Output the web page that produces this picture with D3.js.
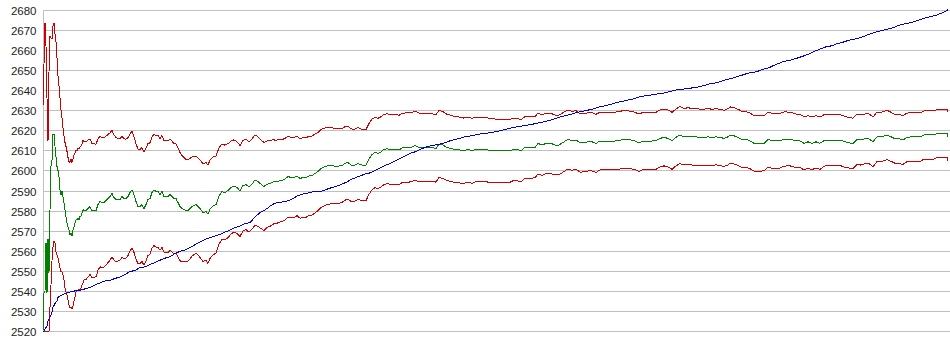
<!DOCTYPE html>
<html><head><meta charset="utf-8">
<script src="https://cdn.jsdelivr.net/npm/d3@7"></script>
<style>html,body{margin:0;padding:0;background:#fff;overflow:hidden}</style>
</head><body><svg id="chart" width="950" height="355"></svg>
<script>
const yTicks = [2520,2530,2540,2550,2560,2570,2580,2590,2600,2610,2620,2630,2640,2650,2660,2670,2680];

const trials = [0,1,2,3,4,5,6,7,8,9,10,11,12,13,14,15,16,17,18,19,20,21,22,23,24,25,26,27,28,29,30,31,32,33,34,35,36,37,38,39,40,
41,43,45,47,49,51,53,55,57,59,61,63,65,67,69,71,73,75,77,79,81,83,85,87,89,91,93,95,97,99,101,103,105,107,109,111,113,115,117,119,121,123,125,127,129,131,133,135,137,139,141,143,145,147,149,151,153,155,157,
160,163,165,167,170,173,176,179,182,185,188,191,194,197,200,203,206,209,212,215,218,221,224,227,230,233,236,239,242,245,248,251,254,257,260,263,266,269,272,275,278,281,284,287,290,293,296,299,302,305,308,311,
315,319,323,326,329,332,335,338,341,344,348,353,356,359,364,368,372,376,381,386,389,393,396,400,404,408,412,417,421,425,429,433,438,443,447,451,455,459,463,467,470,474,478,482,487,492,495,499,503,508,512,516,520,525,529,533,537,541,545,549,553,557,562,567,572,576,580,584,588,592,596,600,605,609,613,617,621,625,629,633,637,641,645,649,653,657,661,665,669,673,677,681,685,687,691,695,699,703,707,711,717,721,725,729,733,737,741,747,753,757,761,765,769,773,777,782,787,792,797,802,806,810,814,818,822,826,830,834,839,844,848,852,856,860,864,868,873,878,881,886,891,894,899,904,905];

const meanValues = [2520,2539,2540,2564,2539,2566,2549,2580,2602,2605,2618,2618,2612,2607,2602,2600,2597,2590.5,2588,2589.6,2587,2583.8,2580.5,2577,2573.8,2572,2570.5,2568,2568.8,2567.2,2570.5,2572,2573.8,2575.5,2575.5,2576.3,2575.5,2577.2,2577.2,2579,2580.5,
2580,2580,2581,2582,2580,2580,2580,2583,2584.5,2584,2584,2585,2586,2587,2588.5,2586.5,2585.5,2585.5,2585.5,2587,2586,2586,2587,2589,2590.4,2588,2584.6,2582,2582,2583,2581,2583,2585.5,2586,2589,2590.4,2589.6,2589.6,2588,2589.6,2587,2587,2587,2588,2587,2586,2586,2584,2582,2581,2580.5,2580,2580,2581,2582,2582.5,2583,2582,2581,
2579,2579.5,2578.2,2580.7,2582.3,2583,2587.3,2589.5,2589,2590,2591.5,2592.3,2591.5,2589.8,2592.5,2593,2591.8,2593.2,2595.3,2594.5,2593.2,2592,2593.2,2593.5,2594.3,2594.3,2594.8,2595,2595.7,2597,2596.5,2596.5,2597.3,2596,2596.5,2596.5,2597.3,2597.5,2598.5,2599.5,2601,2601.7,2602.3,2602.3,2602.3,2602,2602.2,2602.5,2603.5,2604,2602.7,2602.5,
2603.5,2602.7,2602.7,2605.8,2608,2609,2608.5,2609.3,2610.5,2610.8,2610.5,2610.5,2610.2,2611.2,2611.5,2611.5,2612.5,2611.5,2611.5,2611.5,2611.5,2611,2613.2,2612.7,2611.5,2611,2610.5,2610.2,2609.8,2610.5,2609.8,2610.5,2610.5,2610.5,2609.8,2609.8,2609.8,2609.8,2609.8,2609.8,2610.5,2610.5,2609.8,2611.5,2611.5,2611.5,2613.5,2612.7,2613.5,2613.5,2612.7,2612.7,2614,2615.5,2614.8,2615.2,2613.8,2613.8,2614.3,2614.3,2613.5,2614.7,2614.7,2614.7,2614.7,2615,2615.5,2615.5,2615.2,2614.7,2613.8,2614.7,2614.7,2614.7,2614.8,2616,2616.5,2616,2614.8,2616.5,2617.7,2616.8,2617.2,2616.8,2616.8,2616.5,2616.5,2616.8,2616.5,2616.8,2616.5,2616,2616.8,2617.7,2617.3,2616.5,2615.5,2615.5,2614.8,2613.5,2613.5,2613.5,2615.5,2614.8,2614.8,2614.8,2615.7,2615.7,2614.8,2614.8,2613.5,2614.3,2613.5,2614.3,2613.6,2615.2,2615.2,2615.2,2615.2,2614.3,2613.8,2613.5,2615.5,2615.2,2615.8,2615.8,2614.3,2616.8,2616.8,2617.7,2616.8,2615.8,2615.8,2615.2,2616.5,2616.8,2616.8,2616.8,2617.7,2617.7,2617.7,2618.5,2618.5,2618.5,2617];

const upperValues = [2632,2653,2673.5,2662,2636,2614.5,2649,2667,2666,2665.5,2672,2673.5,2668,2664,2656,2647,2642,2636,2630,2626,2621,2617,2614,2612,2609.5,2606.5,2604.5,2604,2605.5,2604,2605.5,2607.7,2608.8,2610.2,2610,2611,2611,2611.8,2612.2,2613.2,2615.2,
2614.5,2614.3,2615.1,2615.8,2613.5,2613.3,2613,2615.8,2617,2616.4,2616.2,2617.1,2617.9,2618.8,2620,2617.7,2616.4,2616.1,2615.8,2617.1,2615.9,2615.6,2616.4,2618.2,2619.5,2616.9,2613.4,2610.6,2610.5,2611.4,2609.2,2611.1,2613.4,2613.8,2616.8,2618.2,2617.4,2617.4,2615.8,2617.4,2614.8,2614.8,2614.8,2615.8,2614.6,2613.5,2613.3,2611.2,2609,2607.5,2606.5,2605.5,2605.2,2606,2606.7,2606.9,2607.2,2606.2,2605.3,
2603.3,2603.9,2602.7,2605.2,2606.7,2607.2,2611.3,2613.3,2612.6,2613.4,2614.7,2615.3,2614.3,2612.5,2615.1,2615.5,2614.3,2615.7,2617.8,2616.8,2615.3,2613.9,2614.8,2614.8,2615.3,2615.1,2615.4,2615.4,2616,2617.2,2616.5,2616.4,2617.1,2615.8,2616.3,2616.3,2617.1,2617.2,2618.1,2619,2620.4,2621,2621.5,2621.3,2621.2,2620.7,2620.8,2620.9,2621.8,2622.2,2620.8,2620.5,
2621.4,2620.5,2620.4,2623.4,2625.6,2626.5,2626,2626.8,2628,2628.2,2627.9,2627.9,2627.5,2628.5,2628.8,2628.7,2629.7,2628.6,2628.5,2628.4,2628.3,2627.8,2629.9,2629.3,2628,2627.5,2626.9,2626.6,2626.1,2626.7,2626,2626.6,2626.5,2626.5,2625.7,2625.7,2625.6,2625.6,2625.5,2625.5,2626.1,2626.1,2625.3,2626.9,2626.8,2626.7,2628.7,2627.8,2628.5,2628.5,2627.6,2627.6,2628.8,2630.2,2629.5,2629.8,2628.4,2628.3,2628.8,2628.8,2628,2629.1,2629.1,2629.1,2629.1,2629.4,2629.8,2629.8,2629.5,2629,2628.1,2629,2628.9,2628.9,2629,2630.2,2630.7,2630.2,2629,2630.7,2631.9,2630.9,2631.3,2630.9,2630.9,2630.6,2630.6,2630.9,2630.5,2630.8,2630.5,2630,2630.8,2631.7,2631.3,2630.5,2629.5,2629.4,2628.7,2627.3,2627.3,2627.2,2629.2,2628.5,2628.4,2628.4,2629.2,2629.1,2628.1,2628.1,2626.7,2627.4,2626.6,2627.3,2626.6,2628.1,2628.1,2628,2627.9,2627,2626.4,2626.1,2628,2627.7,2628.2,2628.2,2626.7,2629.1,2629.1,2630,2629,2628,2628,2627.4,2628.6,2628.9,2628.9,2628.9,2629.7,2629.7,2629.7,2630.5,2630.5,2630.5,2629];

const lowerValues = [2520,2520,2520,2520,2520,2520,2520,2532,2543,2555,2562,2565,2564,2559.5,2558,2556.5,2554,2551.5,2549.5,2549.5,2548,2545.5,2541.5,2539.5,2538,2535.5,2533,2531.5,2532,2531,2532.5,2535,2537,2539.5,2540,2540.2,2540.7,2540.2,2541.2,2543,2544,
2545.5,2545.7,2546.9,2548.2,2546.5,2546.7,2547,2550.2,2552,2551.6,2551.8,2552.9,2554.1,2555.2,2557,2555.3,2554.6,2554.9,2555.2,2556.9,2556.1,2556.4,2557.6,2559.8,2561.3,2559.1,2555.8,2553.4,2553.5,2554.6,2552.8,2554.9,2557.6,2558.2,2561.2,2562.6,2561.8,2561.8,2560.2,2561.8,2559.2,2559.2,2559.2,2560.2,2559.4,2558.5,2558.7,2556.8,2555,2554.5,2554.5,2554.5,2554.8,2556,2557.3,2558.1,2558.8,2557.8,2556.7,
2554.7,2555.1,2553.7,2556.2,2557.9,2558.8,2563.3,2565.7,2565.4,2566.6,2568.3,2569.3,2568.7,2567.1,2569.9,2570.5,2569.3,2570.7,2572.8,2572.2,2571.1,2570.1,2571.6,2572.2,2573.3,2573.5,2574.2,2574.6,2575.4,2576.8,2576.5,2576.6,2577.5,2576.2,2576.7,2576.7,2577.5,2577.8,2578.9,2580,2581.6,2582.4,2583.1,2583.3,2583.4,2583.3,2583.6,2584.1,2585.2,2585.8,2584.6,2584.5,
2585.6,2584.9,2585,2588.2,2590.4,2591.5,2591,2591.8,2593,2593.4,2593.1,2593.1,2592.9,2593.9,2594.2,2594.3,2595.3,2594.4,2594.5,2594.6,2594.7,2594.2,2596.5,2596.1,2595,2594.5,2594.1,2593.8,2593.5,2594.3,2593.6,2594.4,2594.5,2594.5,2593.9,2593.9,2594,2594,2594.1,2594.1,2594.9,2594.9,2594.3,2596.1,2596.2,2596.3,2598.3,2597.6,2598.5,2598.5,2597.8,2597.8,2599.2,2600.8,2600.1,2600.6,2599.2,2599.3,2599.8,2599.8,2599,2600.3,2600.3,2600.3,2600.3,2600.6,2601.2,2601.2,2600.9,2600.4,2599.5,2600.4,2600.5,2600.5,2600.6,2601.8,2602.3,2601.8,2600.6,2602.3,2603.5,2602.7,2603.1,2602.7,2602.7,2602.4,2602.4,2602.7,2602.5,2602.8,2602.5,2602,2602.8,2603.7,2603.3,2602.5,2601.5,2601.6,2600.9,2599.7,2599.7,2599.8,2601.8,2601.1,2601.2,2601.2,2602.2,2602.3,2601.5,2601.5,2600.3,2601.2,2600.4,2601.3,2600.6,2602.3,2602.3,2602.4,2602.5,2601.6,2601.2,2600.9,2603,2602.7,2603.4,2603.4,2601.9,2604.5,2604.5,2605.4,2604.6,2603.6,2603.6,2603,2604.4,2604.7,2604.7,2604.7,2605.7,2605.7,2605.7,2606.5,2606.5,2606.5,2605];

const cumTrials = [0,1,4,5,7,9,10,12,14,15,17,20,24,27,32,37,42,47,52,57,62,67,72,77,82,87,92,97,102,107,112,117,122,127,132,137,142,147,152,157,162,167,172,177,182,187,192,197,202,207,210,214,217,220,224,227,230,234,239,244,249,254,259,264,269,274,279,284,289,294,299,304,309,312,317,322,327,332,337,342,347,352,357,362,367,372,377,382,387,392,397,402,407,412,417,422,427,432,437,442,447,452,457,462,469,477,485,492,500,507,514,522,529,535,542,549,555,562,569,575,582,589,595,602,609,615,622,634,647,657,667,674,680,689,697,705,714,720,725,730,735,740,749,754,759,764,769,772,777,782,789,794,799,805,812,819,825,830,835,842,849,855,862,869,875,882,889,895,900,904,905];

const cumValues = [2520,2520,2522.5,2525,2527,2529.3,2531.8,2533.7,2535,2536.8,2537.5,2538.3,2539,2539.4,2540,2540.3,2541,2541.7,2543,2544,2544.9,2545.2,2546.2,2546.9,2548.2,2549.6,2550.2,2551.6,2552,2553.2,2554.1,2555.3,2556.3,2557,2558.6,2559.7,2560.4,2561.6,2563,2564.3,2565.7,2566.5,2567.3,2568.2,2569.3,2570.3,2571.5,2572.3,2573.5,2574,2575.7,2577.7,2579,2579.8,2581,2582.3,2583.2,2584,2584.3,2584.8,2585.7,2587.3,2588.2,2588.7,2589.3,2589.5,2589.8,2590.7,2591.5,2592.3,2593.2,2594.3,2595.8,2596.3,2597.3,2598.2,2598.8,2600,2601.3,2602.5,2603.5,2604.8,2606,2607.2,2608.5,2609.3,2610.5,2611.5,2612.2,2612.7,2613.2,2613.8,2614.8,2615.5,2616,2616.8,2617.2,2617.7,2618.2,2618.5,2618.8,2619.3,2619.8,2620.5,2621.3,2622,2622.7,2623.3,2624.2,2625,2626.2,2627.3,2628.2,2629,2629.8,2630.5,2631.5,2632.3,2633.2,2634,2634.8,2635.5,2636.5,2637.2,2637.7,2638.2,2638.7,2640.2,2641,2641.8,2643.2,2643.8,2644.8,2646,2647.2,2648.5,2649.3,2650.5,2651,2652.2,2653.2,2654.3,2655.2,2656,2656.8,2657.7,2658.8,2659.5,2660.5,2661.5,2662.2,2663.2,2663.8,2664.8,2665.5,2666.5,2667.7,2668.5,2669.3,2670.2,2671,2672.2,2673.2,2673.8,2674.8,2676,2676.8,2677.7,2678.8,2679.8,2680.3];

const svg = d3.select('#chart');
const x = d3.scaleLinear().domain([0, 905]).range([43, 948]);
const y = d3.scaleLinear().domain([2520, 2680]).range([331, 10]);
const row = v => Math.round(y(v) - 0.001) + 0.5;

// grid lines
svg.append('g').selectAll('line').data(yTicks).join('line')
  .attr('x1', 43).attr('x2', 950)
  .attr('y1', d => row(d)).attr('y2', d => row(d))
  .attr('stroke', '#c0c0c0').attr('stroke-width', 1)
  .attr('shape-rendering', 'crispEdges');

// left axis line
svg.append('line')
  .attr('x1', 43.5).attr('x2', 43.5).attr('y1', 10).attr('y2', 332)
  .attr('stroke', '#c0c0c0').attr('shape-rendering', 'crispEdges');

// tick labels via d3 axis
const axis = d3.axisLeft(y).tickValues(yTicks).tickSize(0).tickPadding(0).tickFormat(d3.format('d'));
const ag = svg.append('g').attr('transform', 'translate(36.5,0)').call(axis);
ag.select('.domain').remove();
ag.selectAll('text')
  .attr('y', 0)
  .attr('dy', '0.35em')
  .style('font-family', '"Liberation Sans", Arial, sans-serif')
  .style('font-size', '11.5px')
  .attr('fill', '#222');
ag.selectAll('.tick').attr('transform', d => `translate(0,${row(d)})`);

const mkLine = (xs, ys) => d3.line().x((d, i) => x(xs[i])).y((d, i) => y(ys[i]));
const idx = arr => arr.map((d, i) => i);

const n = Math.min(trials.length, meanValues.length, upperValues.length, lowerValues.length);
const ids = d3.range(n);

const series = [
  {vals: upperValues, color: '#cc0000'},
  {vals: lowerValues, color: '#cc0000'},
  {vals: meanValues, color: '#008000'}
];
series.forEach(s => {
  svg.append('path')
    .attr('d', mkLine(trials, s.vals)(ids))
    .attr('fill', 'none').attr('stroke', s.color).attr('stroke-width', 1)
    .attr('shape-rendering', 'crispEdges');
});

const cn = Math.min(cumTrials.length, cumValues.length);
svg.append('path')
  .attr('d', mkLine(cumTrials, cumValues)(d3.range(cn)))
  .attr('fill', 'none').attr('stroke', '#0000cc').attr('stroke-width', 1)
  .attr('shape-rendering', 'crispEdges');
</script>
</body></html>
